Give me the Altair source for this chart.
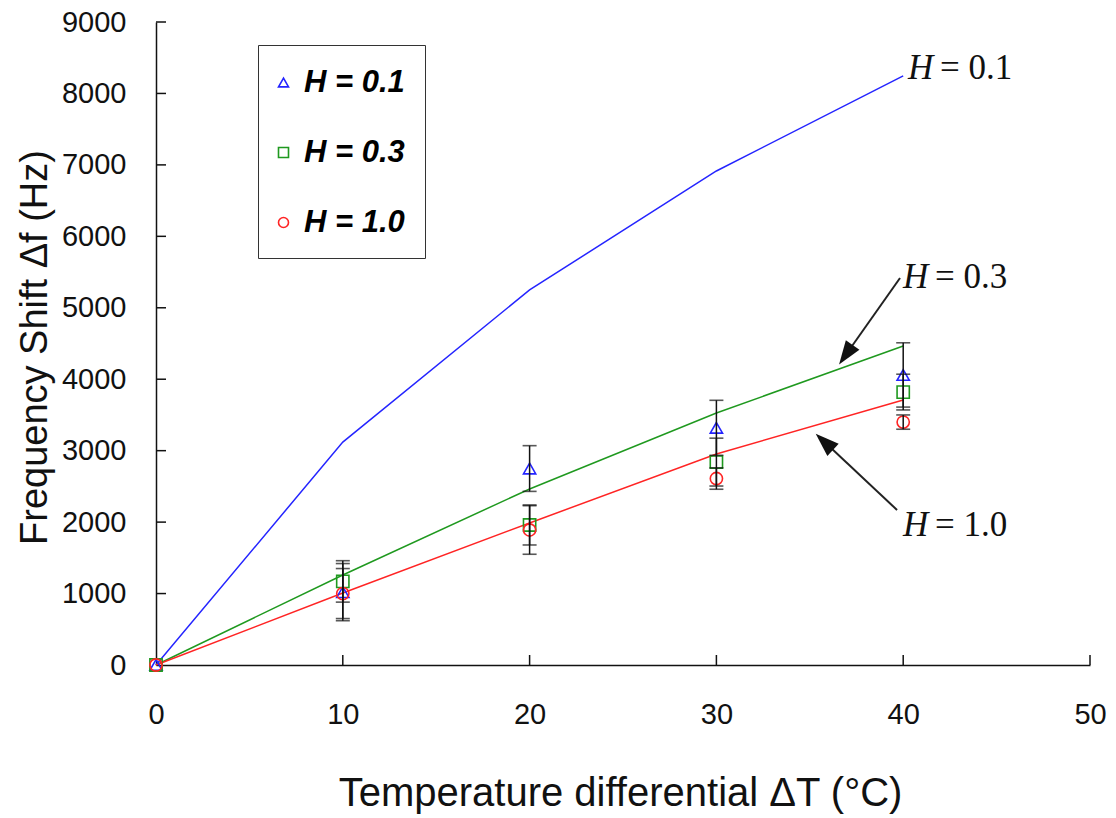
import altair as alt
import pandas as pd

# ---- data ----
T = [0, 10, 20, 30, 40]
SERIES = ["H = 0.1", "H = 0.3", "H = 1.0"]

model_01 = [0, 3120, 5250, 6915, 8245]
model_03 = [0, 1260, 2464, 3527, 4465]
model_10 = [0, 1008, 1988, 2954, 3709]

meas_01 = [0, 1020, 2750, 3320, 4060]
err_01 = [0, 400, 320, 385, 450]
meas_03 = [0, 1170, 1960, 2840, 3820]
err_03 = [0, 290, 280, 335, 250]
meas_10 = [0, 1000, 1890, 2610, 3400]
err_10 = [0, 350, 340, 150, 100]

X_TICKS = [0, 10, 20, 30, 40, 50]
Y_TICKS = [0, 1000, 2000, 3000, 4000, 5000, 6000, 7000, 8000, 9000]

# annotation labels (text anchor in data units)
ann_x = [40.26, 39.99, 39.99]
ann_y = [8357, 5431, 1960]
ann_val = ["= 0.1", "= 0.3", "= 1.0"]

# arrows: shaft start, head centre
arrow1 = {"x": 39.83, "y": 5417, "x2": 36.93, "y2": 4342}
arrow2 = {"x": 39.67, "y": 2170, "x2": 35.78, "y2": 3124}

COLORS = ["#2424ff", "#1f991f", "#ff2424"]
SHAPES = ["triangle-up", "square", "circle"]

lines_df = pd.DataFrame([
    {"T": t, "v": v, "series": s}
    for s, vals in zip(SERIES, [model_01, model_03, model_10])
    for t, v in zip(T, vals)
])
meas_df = pd.DataFrame([
    {"T": t, "v": v, "lo": v - e, "hi": v + e, "err": e, "series": s}
    for s, vals, errs in zip(SERIES, [meas_01, meas_03, meas_10], [err_01, err_03, err_10])
    for t, v, e in zip(T, vals, errs)
])
err_df = meas_df[meas_df["err"] > 0]
caps_df = pd.concat([
    err_df[["T", "lo"]].rename(columns={"lo": "v"}),
    err_df[["T", "hi"]].rename(columns={"hi": "v"}),
])
ann_df = pd.DataFrame({"x": ann_x, "v": ann_y, "val": ann_val})
xt_df = pd.DataFrame({"T": [t for t in X_TICKS if t > 0]})
yt_df = pd.DataFrame({"v": [t for t in Y_TICKS if t > 0]})

FONT = "Liberation Sans"
W, H = 934, 643

xscale = alt.Scale(domain=[0, 50], nice=False, zero=False)
yscale = alt.Scale(domain=[0, 9000], nice=False)
XT = "Temperature differential ΔT (°C)"
YT = "Frequency Shift Δf (Hz)"
xaxis = alt.Axis(values=X_TICKS, format="d", title=XT, ticks=False, tickSize=0,
                 labelFlush=False, labelOverlap=False,
                 labelPadding=35, labelFontSize=29, labelFont=FONT, labelColor="#111",
                 titleFontSize=40, titleFont=FONT, titleFontWeight="normal", titleColor="#111",
                 titleX=464, titleY=140, titleAlign="center", titleBaseline="alphabetic",
                 domainColor="#111", domainWidth=1.5, grid=False)
yaxis = alt.Axis(values=Y_TICKS, format="d", title=YT, ticks=False, tickSize=0,
                 labelFlush=False, labelOverlap=False,
                 labelPadding=30, labelFontSize=29, labelFont=FONT, labelColor="#111",
                 titleFontSize=38, titleFont=FONT, titleFontWeight="normal", titleColor="#111",
                 titleX=-121, titleY=325, titleAngle=-90, titleAlign="center",
                 titleBaseline="middle", domainColor="#111", domainWidth=1.5, grid=False)


def X(field):
    return alt.X(field, scale=xscale, axis=xaxis, title=XT)


def Y(field):
    return alt.Y(field, scale=yscale, axis=yaxis, title=YT)


LEG = dict(title=" ", titleFontSize=1, titlePadding=1, orient="none", legendX=102,
           legendY=23, padding=20, rowPadding=38,
           labelFontSize=31, labelFont=FONT, labelFontWeight="bold", labelFontStyle="italic",
           labelColor="#000", labelOffset=5, symbolSize=100, symbolStrokeWidth=1.6,
           symbolOffset=-10, strokeColor="#333", fillColor="white")

line_layers = [
    alt.Chart(lines_df).transform_filter(alt.datum.series == s).mark_line(
        strokeWidth=1.5, color=c).encode(x=X("T:Q"), y=Y("v:Q"))
    for s, c in zip(SERIES, COLORS)
]

points = alt.Chart(meas_df).mark_point(filled=False, size=150, strokeWidth=1.6, opacity=1).encode(
    x=X("T:Q"), y=Y("v:Q"),
    color=alt.Color("series:N", scale=alt.Scale(domain=SERIES, range=COLORS),
                    legend=alt.Legend(**LEG)),
    shape=alt.Shape("series:N", scale=alt.Scale(domain=SERIES, range=SHAPES),
                    legend=alt.Legend(**LEG)),
)

ebars = alt.Chart(err_df).mark_rule(color="#111", strokeWidth=1.5).encode(
    x=X("T:Q"), y=Y("lo:Q"), y2="hi:Q")
caps = alt.Chart(caps_df).mark_tick(color="#111", orient="horizontal", size=14, thickness=1.6).encode(
    x=X("T:Q"), y=Y("v:Q"))

xticks = alt.Chart(xt_df).mark_rule(color="#111", strokeWidth=1.5).encode(
    x=X("T:Q"), y=alt.value(H - 10), y2=alt.value(H))
yticks = alt.Chart(yt_df).mark_rule(color="#111", strokeWidth=1.5).encode(
    y=Y("v:Q"), x=alt.value(0), x2=alt.value(10))

arrow_df = pd.DataFrame([arrow1, arrow2])
shafts = alt.Chart(arrow_df).mark_rule(color="#222", strokeWidth=2).encode(
    x=X("x:Q"), y=Y("y:Q"), x2="x2:Q", y2="y2:Q")
HEAD = "M0,-1L0.7,1L-0.7,1Z"
head1 = alt.Chart(pd.DataFrame([arrow1])).mark_point(
    shape=HEAD, filled=True, color="#111", size=560, angle=215, opacity=1).encode(
    x=X("x2:Q"), y=Y("y2:Q"))
head2 = alt.Chart(pd.DataFrame([arrow2])).mark_point(
    shape=HEAD, filled=True, color="#111", size=560, angle=313, opacity=1).encode(
    x=X("x2:Q"), y=Y("y2:Q"))

ann_h = alt.Chart(ann_df).mark_text(
    text="H", font="Liberation Serif", fontStyle="italic", fontSize=35, align="left",
    baseline="middle", color="#111").encode(x=X("x:Q"), y=Y("v:Q"))
ann_v = alt.Chart(ann_df).mark_text(
    font="Liberation Serif", fontSize=35, align="left", baseline="middle", dx=32,
    color="#111").encode(x=X("x:Q"), y=Y("v:Q"), text="val:N")

chart = alt.layer(
    *line_layers, points, ebars, caps, xticks, yticks, shafts, head1, head2, ann_h, ann_v
).properties(
    width=W, height=H,
    padding={"left": 156, "top": 22, "right": 26, "bottom": 153},
    autosize=alt.AutoSizeParams(type="none"),
    background="white",
).configure_view(stroke=None)

chart.save("out.html", embed_options={"renderer": "svg", "actions": False})
